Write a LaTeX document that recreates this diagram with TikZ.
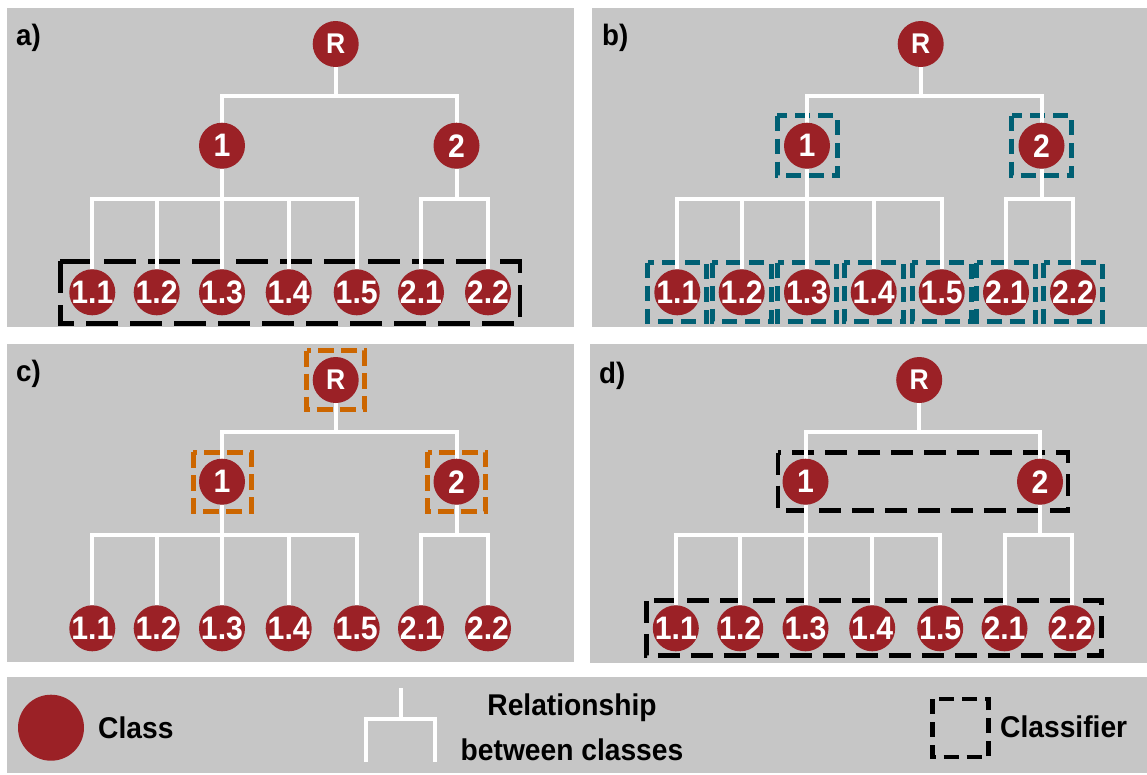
\documentclass[tikz,border=0pt]{standalone}
\usepackage{fontspec}
\setmainfont{Liberation Sans}
\newfontfamily\legfont{Liberation Sans}[FakeStretch=0.94]
\newfontfamily\nodefont{Liberation Sans}[FakeStretch=0.93]
\usetikzlibrary{calc}
\definecolor{panelgray}{RGB}{198,198,198}
\definecolor{clsred}{RGB}{155,33,38}
\definecolor{clfteal}{RGB}{0,95,115}
\definecolor{clforange}{RGB}{204,102,0}
\pgfdeclarelayer{panelbg}
\pgfdeclarelayer{boxes}
\pgfdeclarelayer{lines}
\pgfsetlayers{panelbg,boxes,lines,main}
\tikzset{
  panel/.style={fill=panelgray, draw=none},
  cls/.style={circle, fill=clsred, minimum size=46pt, inner sep=0pt, text=white,
    font={\nodefont\bfseries\fontsize{32.5}{32.5}\selectfont}},
  rootcls/.style={cls, font={\nodefont\bfseries\fontsize{28.5}{28.5}\selectfont}},
  rel/.style={draw=white, line width=4pt},
  plabel/.style={anchor=base west, inner sep=0pt, font={\legfont\bfseries\fontsize{29.5}{29.5}\selectfont}},
  legtext/.style={inner sep=0pt, font={\legfont\bfseries\fontsize{30}{30}\selectfont}},
  boxa/.style={draw=black, line width=4.8pt, dash pattern=on 32pt off 12pt},
  boxd/.style={draw=black, line width=4.8pt, dash pattern=on 22pt off 11pt},
  boxb/.style={draw=clfteal, line width=5pt, dash pattern=on 15pt off 8pt},
  boxc/.style={draw=clforange, line width=5pt, dash pattern=on 16pt off 7pt},
  boxleg/.style={draw=black, line width=4.5pt, dash pattern=on 15pt off 8pt},
}
\newcommand\mktree[3]{%
\begin{scope}[shift={(#2,#3)}]
  \node[rootcls] (#1-R) at (335.7,44) {\makebox[0pt]{R}};
  \node[cls] (#1-1) at (222,145.7) {\makebox[0pt]{1}};
  \node[cls] (#1-2) at (456.5,145.7) {\makebox[0pt]{2}};
  \node[cls] (#1-11) at (92.3,292.3) {\makebox[0pt]{1.1}};
  \node[cls] (#1-12) at (156.7,292.3) {\makebox[0pt]{1.2}};
  \node[cls] (#1-13) at (222,292.3) {\makebox[0pt]{1.3}};
  \node[cls] (#1-14) at (288.7,292.3) {\makebox[0pt]{1.4}};
  \node[cls] (#1-15) at (356.7,292.3) {\makebox[0pt]{1.5}};
  \node[cls] (#1-21) at (421,292.3) {\makebox[0pt]{2.1}};
  \node[cls] (#1-22) at (488,292.3) {\makebox[0pt]{2.2}};
  \begin{pgfonlayer}{lines}
    \draw[rel] (#1-R.south) -- ++(0,28.7) -| (#1-1.north);
    \draw[rel] (#1-R.south) -- ++(0,28.7) -| (#1-2.north);
    \foreach \lf in {11,12,13,14,15}
      \draw[rel] (#1-1.south) -- ++(0,30.3) -| (#1-\lf.north);
    \foreach \lf in {21,22}
      \draw[rel] (#1-2.south) -- ++(0,30.3) -| (#1-\lf.north);
  \end{pgfonlayer}
\end{scope}}

\begin{document}
\begin{tikzpicture}[x=1pt,y=-1pt]
\useasboundingbox (0,0) rectangle (1147,774);
\begin{pgfonlayer}{panelbg}
  \fill[white] (0,0) rectangle (1147,774);
  \fill[panel] (7,8) rectangle (574,326.5);
  \fill[panel] (592,8) rectangle (1147,326.5);
  \fill[panel] (7,344) rectangle (574,662);
  \fill[panel] (590,343.5) rectangle (1147,662.5);
  \fill[panel] (7,677) rectangle (1147,773);
\end{pgfonlayer}

% panel labels
\node[plabel] (la) at (16,45) {a)};
\node[plabel] (lb) at (602,45) {b)};
\node[plabel] (lc) at (16,381) {c)};
\node[plabel] (ld) at (599,383) {d)};

% trees
\mktree{a}{0}{0}
\mktree{b}{585}{0}
\mktree{c}{0}{336}
\mktree{d}{583.5}{336}

\begin{pgfonlayer}{boxes}
  % a) flat classifier
  \draw[boxa] ($(a-11)+(-32,-31)$) rectangle ($(a-22)+(32,31)$);
  % b) local classifier per node
  \foreach \nd in {11,12,13,14,15,21,22}
    \draw[boxb] ($(b-\nd)+(-29.5,-29.5)$) rectangle ($(b-\nd)+(29.5,29.5)$);
  \foreach \nd in {1,2}
    \draw[boxb] ($(b-\nd)+(-30,-30)$) rectangle ($(b-\nd)+(30,30)$);
  % c) local classifier per parent node
  \foreach \nd in {R,1,2}
    \draw[boxc] ($(c-\nd)+(-29,-29.5)$) rectangle ($(c-\nd)+(29,29.5)$);
  % d) local classifier per level
  \draw[boxd] ($(d-1)+(-27.5,-29)$) rectangle ($(d-2)+(28,29)$);
  \draw[boxd] ($(d-11)+(-29,-27.5)$) rectangle ($(d-22)+(30,27.5)$);
\end{pgfonlayer}

% legend
\node[circle, fill=clsred, minimum size=66pt, inner sep=0pt] (legcls) at (51,727.7) {};
\node[legtext, anchor=base west] (legclstxt) at (98,738) {Class};

\coordinate (relstem) at (401,688);
\coordinate (reljoin) at (401,719);
\coordinate (relleft) at (366,762);
\coordinate (relright) at (435,762);
\draw[rel, line width=4.5pt] (relleft) |- (reljoin) -| (relright);
\draw[rel, line width=4.5pt] (reljoin) -- (relstem);
\node[legtext, anchor=base] (legrel1) at (572,715) {Relationship};
\node[legtext, anchor=base] (legrel2) at (572,760) {between classes};

\coordinate (clfa) at (932.5,699);
\coordinate (clfb) at (988.5,757);
\draw[boxleg] (clfa) rectangle (clfb);
\node[legtext, anchor=base west] (legclf) at (1000,737.3) {Classifier};
\end{tikzpicture}
\end{document}
